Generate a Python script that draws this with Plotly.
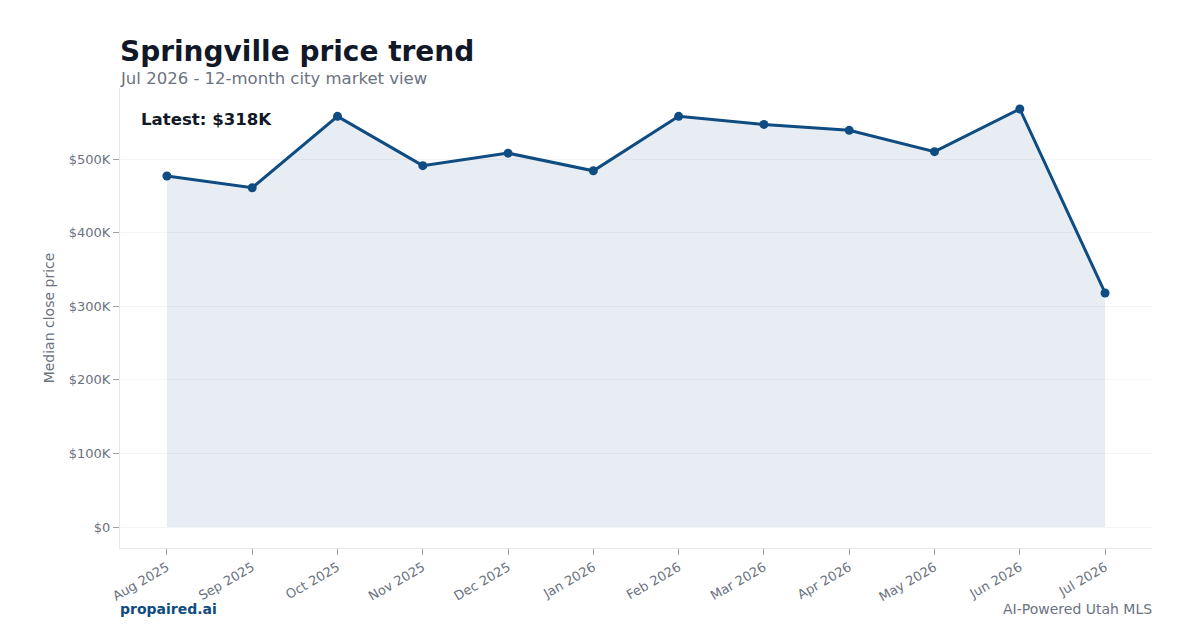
import plotly.graph_objects as go

months = ["Aug 2025", "Sep 2025", "Oct 2025", "Nov 2025", "Dec 2025", "Jan 2026",
          "Feb 2026", "Mar 2026", "Apr 2026", "May 2026", "Jun 2026", "Jul 2026"]
median_price = [477000, 461000, 558000, 491000, 508000, 484000,
                558000, 547000, 539000, 510000, 568000, 318000]
y_ticks = [0, 100000, 200000, 300000, 400000, 500000]
y_tick_labels = ["$0", "$100K", "$200K", "$300K", "$400K", "$500K"]

LINE = "#0f4c81"
FONT = "DejaVu Sans"

fig = go.Figure()
fig.add_trace(go.Scatter(
    x=months, y=median_price, mode="lines+markers",
    line=dict(color=LINE, width=3), marker=dict(size=9, color=LINE),
    fill="tozeroy", fillcolor="rgba(15,76,129,0.10)",
    hoverinfo="skip", showlegend=False,
))

fig.update_layout(
    width=1200, height=630,
    margin=dict(l=120, r=48, t=88, b=82),
    paper_bgcolor="white", plot_bgcolor="white",
    font=dict(family=FONT, color="#6b7280", size=13),
    showlegend=False,
)
fig.update_xaxes(
    type="category", range=[-0.55, 11.55],
    showline=True, linecolor="#e5e7eb", linewidth=1,
    ticks="outside", tickcolor="#9ca3af", ticklen=6,
    tickangle=-30, tickfont=dict(size=13, color="#6b7280"),
    showgrid=False,
)
fig.update_yaxes(
    range=[-28500, 596500],
    tickvals=y_ticks, ticktext=y_tick_labels,
    showline=True, linecolor="#e5e7eb", linewidth=1,
    ticks="outside", tickcolor="#9ca3af", ticklen=6,
    gridcolor="#f3f4f6", zeroline=False,
    tickfont=dict(size=13, color="#6b7280"),
    title=dict(text="Median close price", font=dict(size=14, color="#6b7280"), standoff=10),
)

fig.add_annotation(text="<b>Springville price trend</b>", xref="paper", yref="paper",
                   x=0, y=1, xanchor="left", yanchor="bottom", yshift=18, xshift=-2,
                   showarrow=False, font=dict(size=28, color="#111827", family=FONT))
fig.add_annotation(text="Jul 2026 - 12-month city market view", xref="paper", yref="paper",
                   x=0, y=1, xanchor="left", yanchor="bottom", yshift=-2, xshift=-2,
                   showarrow=False, font=dict(size=16.5, color="#6b7280", family=FONT))
fig.add_annotation(text="<b>Latest: $318K</b>", xref="paper", yref="paper",
                   x=0.02, y=0.97, xanchor="left", yanchor="top", yshift=-6, xshift=-2,
                   showarrow=False, font=dict(size=16.6, color="#111827", family=FONT))
fig.add_annotation(text="<b>propaired.ai</b>", xref="paper", yref="paper",
                   x=0, y=0, xanchor="left", yanchor="middle", yshift=-61, xshift=-2,
                   showarrow=False, font=dict(size=14, color=LINE, family=FONT))
fig.add_annotation(text="AI-Powered Utah MLS", xref="paper", yref="paper",
                   x=1, y=0, xanchor="right", yanchor="middle", yshift=-61, xshift=2,
                   showarrow=False, font=dict(size=14, color="#6b7280", family=FONT))

fig.write_html("out.html")
